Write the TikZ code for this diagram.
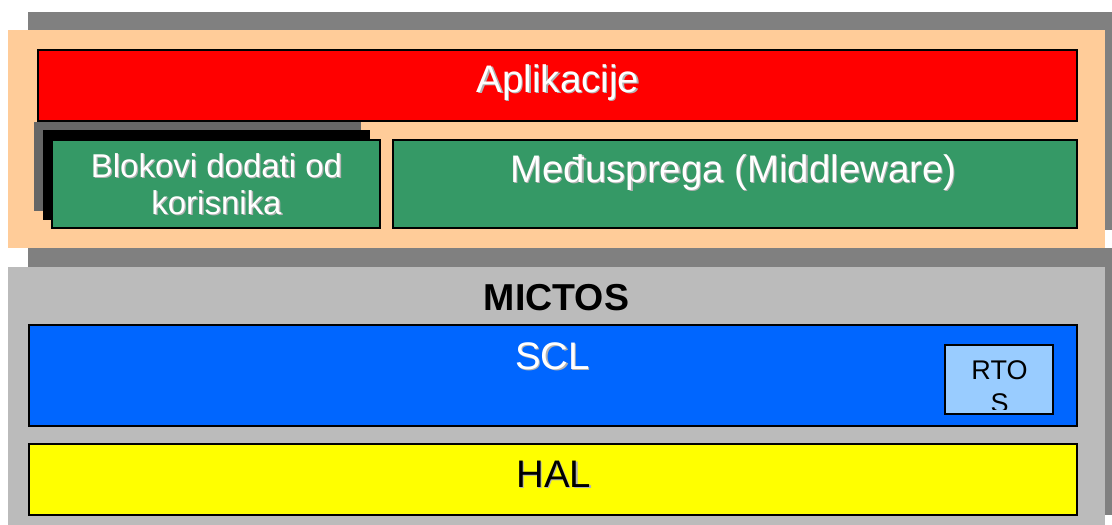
\documentclass[tikz,border=0pt]{standalone}
\usepackage{fontspec}
\setmainfont{Liberation Sans}
\definecolor{shgray}{HTML}{808080}
\definecolor{peach}{HTML}{FFCC99}
\definecolor{panelgray}{HTML}{BBBBBB}
\definecolor{appred}{HTML}{FF0000}
\definecolor{mwgreen}{HTML}{359966}
\definecolor{sclblue}{HTML}{0066FF}
\definecolor{rtosblue}{HTML}{99CCFF}
\definecolor{halyellow}{HTML}{FFFF00}
\definecolor{darkshadow}{HTML}{666666}
\newcommand{\sh}[2][gray!60]{\rlap{\raisebox{-1.3pt}{\hspace{1.3pt}\textcolor{#1}{#2}}}#2}
\begin{document}
\begin{tikzpicture}[x=1pt,y=-1pt,
  layerbox/.style={draw=black,line width=2.5pt},
  bigtxt/.style={anchor=base,inner sep=0pt,font=\fontsize{38.4}{41}\selectfont},
  midtxt/.style={anchor=base,inner sep=0pt,font=\fontsize{33}{37}\selectfont,text=white},
  smalltxt/.style={anchor=base,inner sep=0pt,font=\fontsize{27}{30}\selectfont,text=black}]
\useasboundingbox (0,0) rectangle (1112,525);
% top panel
\fill[shgray] (28,12) rectangle (1112,230);
\fill[peach] (8,30) rectangle (1105,248);
% lower panel
\fill[shgray] (28,248) rectangle (1112,515);
\fill[panelgray] (8,267) rectangle (1105,525);
% application
\draw[layerbox,fill=appred] (38,50) rectangle (1077,121);
\node[bigtxt,text=white] (apl) at (558,92) {\sh{Aplikacije}};
% user blocks with stacked shadows
\fill[darkshadow] (34,122) rectangle (361,211);
\fill[black] (43,130) rectangle (370,220);
\draw[layerbox,fill=mwgreen] (52,140) rectangle (380,228);
\node[midtxt] (blk1) at (216.5,177) {\sh{Blokovi dodati od}};
\node[midtxt] (blk2) at (216.5,214) {\sh{korisnika}};
% middleware
\draw[layerbox,fill=mwgreen] (393,140) rectangle (1077,228);
\node[bigtxt,text=white] (mw) at (733.5,182) {\sh{Međusprega (Middleware)}};
% MICTOS
\node[bigtxt,text=black,font=\fontsize{37.5}{40}\selectfont\bfseries] (mictos) at (556.5,310) {MICTOS};
% SCL
\draw[layerbox,fill=sclblue] (29,325) rectangle (1077,426);
\node[bigtxt,text=white] (scl) at (552.5,369) {\sh{SCL}};
% RTOS
\fill[rtosblue] (945,345) rectangle (1053,414);
\begin{scope}
\clip (946,346) rectangle (1052,409);
\node[smalltxt] (rto) at (999.5,379) {RTO};
\node[smalltxt] (rtos) at (999.5,412.5) {S};
\end{scope}
\draw[line width=2.5pt] (945,345) rectangle (1053,414);
% HAL
\draw[layerbox,fill=halyellow] (29,444) rectangle (1077,515);
\node[bigtxt,text=black] (hal) at (554,487) {\sh{HAL}};
\end{tikzpicture}
\end{document}
